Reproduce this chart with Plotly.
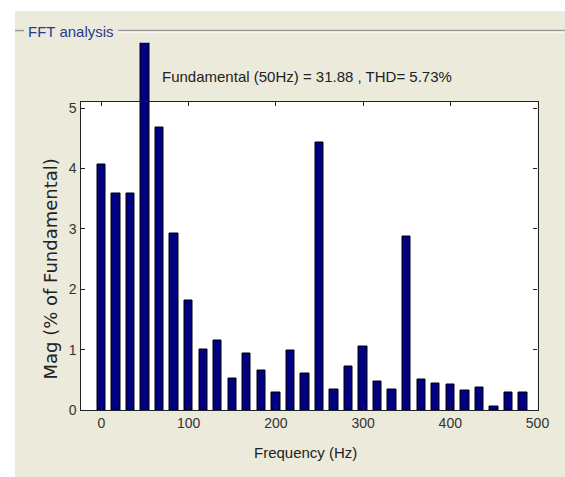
import plotly.graph_objects as go

# Data
freq_hz = [0, 16.67, 33.33, 50, 66.67, 83.33, 100, 116.67, 133.33, 150,
           166.67, 183.33, 200, 216.67, 233.33, 250, 266.67, 283.33, 300, 316.67,
           333.33, 350, 366.67, 383.33, 400, 416.67, 433.33, 450, 466.67, 483.33]
mag_pct = [4.06, 3.59, 3.59, 100.0, 4.67, 2.93, 1.81, 1.01, 1.16, 0.52,
           0.94, 0.65, 0.30, 0.98, 0.60, 4.43, 0.34, 0.72, 1.06, 0.47,
           0.34, 2.88, 0.50, 0.44, 0.43, 0.32, 0.37, 0.055, 0.30, 0.30]
x_ticks = [0, 100, 200, 300, 400, 500]
y_ticks = [0, 1, 2, 3, 4, 5]
title_text = "Fundamental (50Hz) = 31.88 , THD= 5.73%"
x_title = "Frequency (Hz)"
y_title = "Mag (% of Fundamental)"
panel_title = "FFT analysis"

# reference picture size (positions below are measured in these pixels)
RW, RH = 565, 477
# figure size (the page is photographed slightly scaled down)
W, H = 577, 487
X_RANGE = [-24, 500]
Y_MAX = 5.108
Y_TOP = 6.08

def px_x(p):
    return p / RW

def px_y(p):
    return 1 - p / RH

bar_style = dict(marker=dict(color="#000080", line=dict(color="#000000", width=1)),
                 width=9.6, showlegend=False, hoverinfo="x+y")

fig = go.Figure()
fig.add_trace(go.Bar(x=freq_hz, y=mag_pct, xaxis="x", yaxis="y", **bar_style))
fig.add_trace(go.Bar(x=freq_hz, y=mag_pct, xaxis="x2", yaxis="y2", **bar_style))

font_main = "Liberation Sans, Arial, sans-serif"
axis_col = "#222222"

y_bot, y_box_top, y_fig_top = 408.3, 100.3, 41.7

fig.update_layout(
    width=W, height=H,
    margin=dict(l=0, r=0, t=0, b=0),
    paper_bgcolor="#ffffff",
    plot_bgcolor="rgba(0,0,0,0)",
    bargap=0,
    xaxis=dict(domain=[px_x(80.5), px_x(537.5)], range=X_RANGE, tickvals=x_ticks,
               ticks="inside", ticklen=4, tickcolor=axis_col, showline=True,
               linecolor=axis_col, linewidth=1.3, mirror="ticks", showgrid=False,
               zeroline=False, anchor="y",
               tickfont=dict(family=font_main, size=14, color="#333333")),
    yaxis=dict(domain=[px_y(y_bot), px_y(y_box_top)], range=[0, Y_MAX], tickvals=y_ticks,
               ticks="inside", ticklen=4, tickcolor=axis_col, showline=True,
               linecolor=axis_col, linewidth=1.3, mirror="ticks", showgrid=False,
               zeroline=False, anchor="x",
               tickfont=dict(family=font_main, size=14, color="#333333")),
    xaxis2=dict(domain=[px_x(80.5), px_x(537.5)], range=X_RANGE, matches="x",
                visible=False, anchor="y2"),
    yaxis2=dict(domain=[px_y(y_box_top), px_y(y_fig_top)], range=[Y_MAX, Y_TOP],
                visible=False, anchor="x2"),
    shapes=[
        dict(type="rect", xref="paper", yref="paper", x0=px_x(15), x1=1.0, y0=0, y1=px_y(10),
             fillcolor="#ECEADB", line=dict(width=0), layer="below"),
        dict(type="line", xref="paper", yref="paper", x0=px_x(15), x1=px_x(24),
             y0=px_y(29.5), y1=px_y(29.5), line=dict(color="#9a9a9a", width=1.5), layer="below"),
        dict(type="line", xref="paper", yref="paper", x0=px_x(118), x1=1.0,
             y0=px_y(29.5), y1=px_y(29.5), line=dict(color="#9a9a9a", width=1.5), layer="below"),
        dict(type="line", xref="paper", yref="paper", x0=px_x(118), x1=1.0,
             y0=px_y(31), y1=px_y(31), line=dict(color="#ffffff", width=1), layer="below"),
        dict(type="rect", xref="x domain", yref="y domain", x0=0, x1=1, y0=0, y1=1,
             fillcolor="#ffffff", line=dict(width=0), layer="below"),
    ],
    annotations=[
        dict(text=panel_title, xref="paper", yref="paper", x=px_x(26), y=px_y(30),
             xanchor="left", yanchor="middle", showarrow=False,
             font=dict(family=font_main, size=15, color="#2B3990")),
        dict(text=title_text, xref="paper", yref="paper", x=px_x(307), y=px_y(75),
             xanchor="center", yanchor="middle", showarrow=False,
             font=dict(family=font_main, size=15, color="#222222")),
        dict(text=x_title, xref="paper", yref="paper", x=px_x(305), y=px_y(451),
             xanchor="center", yanchor="middle", showarrow=False,
             font=dict(family=font_main, size=15, color="#222222")),
        dict(text=y_title, xref="paper", yref="paper", x=px_x(51), y=px_y(268),
             xanchor="center", yanchor="middle", showarrow=False, textangle=-90,
             font=dict(family="DejaVu Sans, sans-serif", size=18, color="#222222")),
    ],
)

post = (
    "document.documentElement.style.margin='0';"
    "document.documentElement.style.padding='0';"
    "document.documentElement.style.overflow='hidden';"
    "document.body.style.margin='0';"
    "document.body.style.padding='0';"
    "document.body.style.overflow='hidden';"
)
fig.write_html("out.html", config={"displayModeBar": False}, post_script=post)
